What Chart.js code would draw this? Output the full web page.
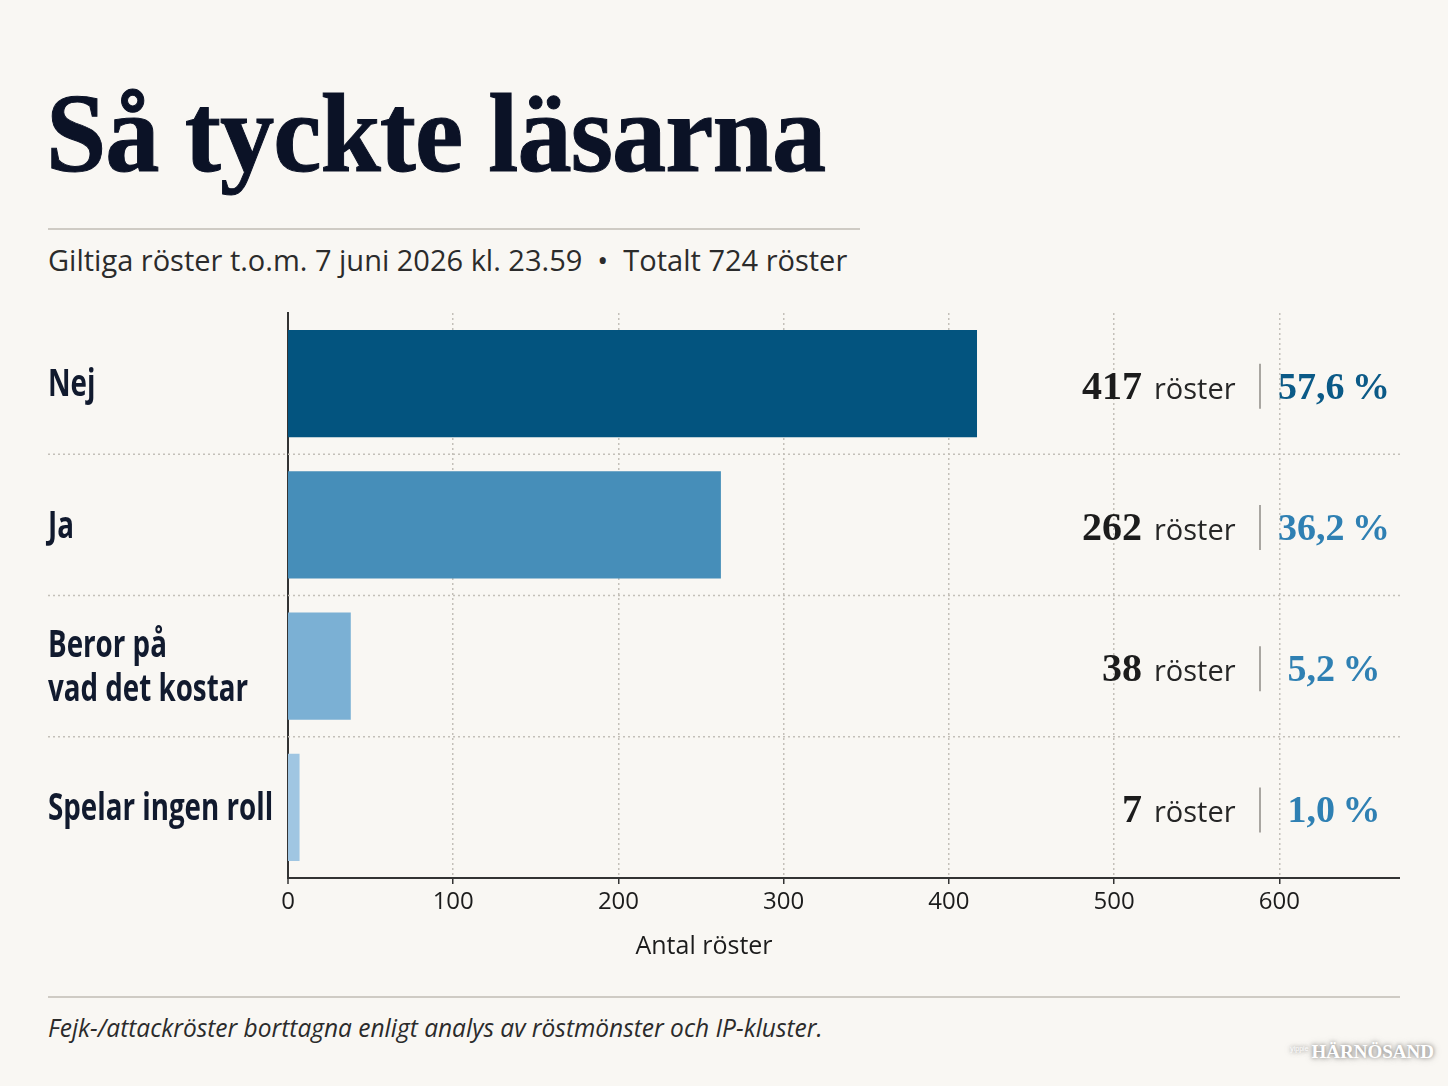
<!DOCTYPE html>
<html lang="sv">
<head>
<meta charset="utf-8">
<title>Så tyckte läsarna</title>
<script src="https://cdn.jsdelivr.net/npm/chart.js@4.4.1/dist/chart.umd.min.js"></script>
<style>
  html, body { margin: 0; padding: 0; }
  body { width: 1448px; height: 1086px; background: #f9f7f3; position: relative; overflow: hidden; }
  .title {
    position: absolute; left: 46px; top: 76px; margin: 0;
    font: 700 113px/1 "Liberation Serif", serif; color: #0b1226;
    transform: scaleX(0.96); transform-origin: left top; white-space: nowrap; letter-spacing: -1px;
    -webkit-text-stroke: 1px #0b1226;
  }
  .rule { position: absolute; left: 48px; height: 2px; background: #cfcbc4; }
  .sub {
    position: absolute; left: 48px; top: 243px;
    font: 400 29px/1.2 "Open Sans", sans-serif; color: #2b2b2b; white-space: nowrap;
  }
  .foot {
    position: absolute; left: 48px; top: 1012px;
    font: italic 400 25px/1.2 "Open Sans", sans-serif; color: #2b2b2b; white-space: nowrap;
    transform: scaleX(0.98); transform-origin: left top;
  }
  .logo {
    position: absolute; right: 14px; top: 1042px; color: #fff; white-space: nowrap;
    font: 700 19px/1 "Liberation Serif", serif; text-shadow: 0 0 4px rgba(0,0,0,0.45), 0 0 8px rgba(0,0,0,0.25);
  }
  .logo small { font: 400 7px "Liberation Sans", sans-serif; vertical-align: 7px; margin-right: 3px; }
  #wrap { position: absolute; left: 0; top: 300px; width: 1448px; height: 680px; }
</style>
</head>
<body>
<h1 class="title">Så tyckte läsarna</h1>
<div class="rule" style="top:228px;width:812px"></div>
<div class="sub">Giltiga röster t.o.m. 7 juni 2026 kl. 23.59 &nbsp;•&nbsp; Totalt 724 röster</div>
<div id="wrap"><canvas id="myChart"></canvas></div>
<div class="rule" style="top:996px;width:1352px"></div>
<div class="foot">Fejk-/attackröster borttagna enligt analys av röstmönster och IP-kluster.</div>
<div class="logo"><small>yippie</small>HÄRNÖSAND</div>
<script>
// data
var categories = [['Nej'], ['Ja'], ['Beror på', 'vad det kostar'], ['Spelar ingen roll']];
var votes = [417, 262, 38, 7];
var shares = ['57,6', '36,2', '5,2', '1,0'];
var xTicks = [0, 100, 200, 300, 400, 500, 600];
var barColors = ['#03547f', '#468eb9', '#7bb0d4', '#a0c6e2'];
var pctColors = ['#0b5a87', '#2f80b3', '#2f80b3', '#2f80b3'];

// draws labels, separators and the right hand values
var sideLabels = {
    id: 'sideLabels',
    beforeDatasetsDraw(chart) {
        var ctx = chart.ctx, y = chart.scales.y, area = chart.chartArea;
        ctx.save();
        ctx.strokeStyle = '#c4c0b9';
        ctx.lineWidth = 1.5;
        ctx.setLineDash([2, 3]);
        for (var i = 1; i < categories.length; i++) {
            var yy = (y.getPixelForValue(i - 1) + y.getPixelForValue(i)) / 2;
            ctx.beginPath();
            ctx.moveTo(48, yy);
            ctx.lineTo(area.right, yy);
            ctx.stroke();
        }
        ctx.restore();
    },
    afterDraw(chart) {
        var ctx = chart.ctx, y = chart.scales.y;
        ctx.save();
        categories.forEach(function (lines, i) {
            var cy = y.getPixelForValue(i);
            // category label
            ctx.fillStyle = '#111a2e';
            ctx.font = '700 38px "Open Sans", sans-serif';
            ctx.textBaseline = 'middle';
            ctx.textAlign = 'left';
            var lh = 44, start = cy - (lines.length - 1) * lh / 2;
            lines.forEach(function (t, k) {
                ctx.save();
                ctx.translate(48, start + k * lh + 2);
                ctx.scale(0.73, 1);
                ctx.fillText(t, 0, 0);
                ctx.restore();
            });
            // value
            var base = cy + 15;
            ctx.textBaseline = 'alphabetic';
            ctx.textAlign = 'right';
            ctx.fillStyle = '#1c1c1c';
            ctx.font = '700 40px "Liberation Serif", serif';
            ctx.fillText(String(votes[i]), 1142, base);
            ctx.textAlign = 'left';
            ctx.fillStyle = '#262626';
            ctx.font = '400 29px "Open Sans", sans-serif';
            ctx.fillText('röster', 1154, base);
            ctx.strokeStyle = '#a9a6a1';
            ctx.lineWidth = 2;
            ctx.beginPath();
            ctx.moveTo(1260, cy - 20);
            ctx.lineTo(1260, cy + 25);
            ctx.stroke();
            ctx.textAlign = 'center';
            ctx.fillStyle = pctColors[i];
            ctx.font = '700 38px "Liberation Serif", serif';
            ctx.fillText(shares[i] + '\u2009%', 1334, base);
        });
        // axis title
        ctx.fillStyle = '#1c1c1c';
        ctx.font = '400 25px "Open Sans", sans-serif';
        ctx.textAlign = 'center';
        ctx.textBaseline = 'middle';
        ctx.fillText('Antal röster', 704, 647);
        ctx.restore();
    }
};

var ctx = document.getElementById('myChart');
var myChart = new Chart(ctx, {
    type: 'bar',
    data: {
        labels: categories,
        datasets: [{
            data: votes,
            backgroundColor: barColors,
            borderWidth: 0,
            barPercentage: 0.76,
            categoryPercentage: 1
        }]
    },
    options: {
        indexAxis: 'y',
        responsive: true,
        maintainAspectRatio: false,
        animation: false,
        layout: { padding: { left: 48, right: 48, top: 13, bottom: 0 } },
        plugins: { legend: { display: false }, tooltip: { enabled: false } },
        scales: {
            x: {
                min: 0,
                max: 673,
                afterBuildTicks: function (scale) {
                    scale.ticks = xTicks.map(function (v) { return { value: v }; });
                },
                afterFit: function (scale) { scale.height = 102; },
                grid: {
                    color: '#c4c0b9',
                    lineWidth: function (c) { return c.tick && c.tick.value === 0 ? 0 : 1.5; },
                    tickColor: '#333',
                    tickWidth: 1.5,
                    tickLength: 6,
                    drawTicks: true,
                    tickBorderDash: []
                },
                border: { color: '#333', width: 2, dash: [2, 3] },
                ticks: {
                    color: '#1c1c1c',
                    padding: 4,
                    font: { family: '"Open Sans", sans-serif', size: 24 }
                }
            },
            y: {
                afterFit: function (scale) { scale.width = 240; },
                grid: { display: false },
                border: { color: '#333', width: 2 },
                ticks: { display: false }
            }
        }
    },
    plugins: [sideLabels]
});
</script>
</body>
</html>
